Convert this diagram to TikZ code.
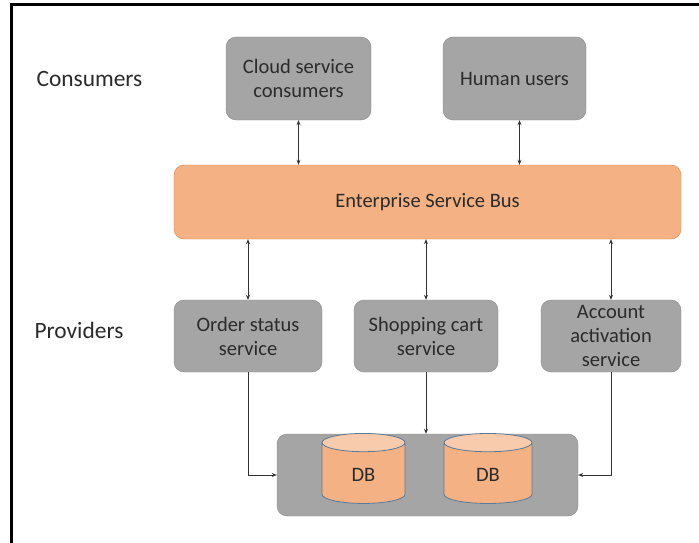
\documentclass[tikz,border=0pt]{standalone}
\usepackage{fontspec}
\setmainfont{Carlito}
\usepackage{xcolor}
\usepackage{tikz}
\usetikzlibrary{positioning,shapes.geometric,arrows.meta}

\definecolor{boxgray}{HTML}{A5A5A5}
\definecolor{boxline}{HTML}{8A8A8A}
\definecolor{busfill}{HTML}{F4B183}
\definecolor{busline}{HTML}{D9824A}
\definecolor{dbtop}{HTML}{F8CBAD}
\definecolor{dbline}{HTML}{5B7A99}
\definecolor{txt}{HTML}{2B2B2B}

\tikzset{
  svc/.style={draw=boxline, fill=boxgray, rounded corners=10pt, align=center,
    text=txt, font=\fontsize{20.5}{24}\selectfont, inner sep=2pt},
  bus/.style={draw=busline, fill=busfill, rounded corners=10pt,
    text=txt, font=\fontsize{20.5}{24}\selectfont},
  dbcyl/.style={cylinder, shape border rotate=90, draw=dbline, thick,
    cylinder uses custom fill, cylinder body fill=busfill, cylinder end fill=dbtop,
    text=txt, font=\fontsize{20.5}{24}\selectfont},
  layer/.style={text=txt, font=\fontsize{23.4}{28}\selectfont, anchor=west},
  link/.style={draw=black!80, line width=0.8pt, -{Stealth[length=5pt,width=4pt]}},
  dlink/.style={link, {Stealth[length=5pt,width=4pt]}-{Stealth[length=5pt,width=4pt]}}
}

\begin{document}
\begin{tikzpicture}[x=1pt,y=-1pt]
\useasboundingbox (0,0) rectangle (699,543);
\draw[black, line width=3pt] (11.5,543) -- (11.5,4.5) -- (699,4.5);

% layers
\node[layer] (consumers) at (33,79) {Consumers};
\node[layer] (providers) at (31,330) {Providers};

% consumers
\node[svc, minimum width=145pt, minimum height=83pt] (cloud) at (298.5,78.5) {Cloud service\\consumers};
\node[svc, minimum width=143pt, minimum height=83pt] (human) at (514.5,78.5) {Human users};

% bus
\node[bus, minimum width=507pt, minimum height=74pt] (esb) at (427.5,202) {Enterprise Service Bus};

% providers
\node[svc, minimum width=148pt, minimum height=72pt] (order) at (248,336) {Order status\\service};
\node[svc, minimum width=144pt, minimum height=72pt] (cart) at (426,336) {Shopping cart\\service};
\node[svc, minimum width=140pt, minimum height=72pt] (account) at (611,336) {Account\\activation\\service};

% storage
\node[svc, minimum width=301pt, minimum height=82pt] (store) at (427.5,475) {};
\node[dbcyl, minimum width=83pt, minimum height=70pt, aspect=0.6] (db1) at (363.5,475) {DB};
\node[dbcyl, minimum width=88pt, minimum height=70pt, aspect=0.6] (db2) at (488,475) {DB};

% connectors
\draw[dlink] (cloud.south) -- (cloud.south |- esb.north);
\draw[dlink] ([xshift=5pt]human.south) -- ([xshift=5pt]human.south |- esb.north);
\draw[dlink] (esb.south -| order.north) -- (order.north);
\draw[dlink] (esb.south -| cart.north) -- (cart.north);
\draw[dlink] (esb.south -| account.north) -- (account.north);
\draw[link] (order.south) |- (store.west);
\draw[link] (cart.south) -- (cart.south |- store.north);
\draw[link] (account.south) |- (store.east);
\end{tikzpicture}
\end{document}
